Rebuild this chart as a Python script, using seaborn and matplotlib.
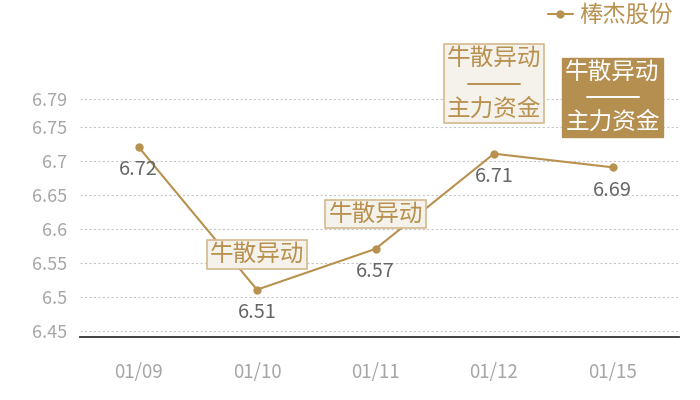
import matplotlib
matplotlib.use("Agg")
import matplotlib.pyplot as plt
from matplotlib.lines import Line2D
from matplotlib.transforms import IdentityTransform
import seaborn as sns
import pandas as pd

# ---- data ----
dates = ["01/09", "01/10", "01/11", "01/12", "01/15"]
prices = [6.72, 6.51, 6.57, 6.71, 6.69]
series_name = "棒杰股份"
y_ticks = [6.45, 6.5, 6.55, 6.6, 6.65, 6.7, 6.75, 6.79]
y_tick_labels = ["6.45", "6.5", "6.55", "6.6", "6.65", "6.7", "6.75", "6.79"]
# annotations
notes_idx = [1, 2, 3, 4]
notes_top = ["牛散异动", "牛散异动", "牛散异动", "牛散异动"]
notes_bottom = [None, None, "主力资金", "主力资金"]
notes_dark = [False, False, False, True]

sns.set_theme(style="white")
plt.rcParams['font.family'] = ['Noto Sans CJK SC', 'DejaVu Sans']

GOLD = "#b8914f"
DARK_BOX = "#b58f50"
LIGHT_BOX = "#f5f1eb"
LIGHT_EDGE = "#d4ba8e"

W, H = 700, 400
fig = plt.figure(figsize=(7, 4), dpi=100)
# axes pixel geometry
left_px, right_px, bottom_px, top_px = 80, 679, 336.7, 20
ax = fig.add_axes([left_px / W, (H - bottom_px) / H, (right_px - left_px) / W, (bottom_px - top_px) / H])

df = pd.DataFrame({"date": dates, "price": prices})
sns.lineplot(data=df, x="date", y="price", ax=ax, color=GOLD, linewidth=1.5,
             marker="o", markersize=6, markeredgewidth=0, sort=False,
             label=series_name, zorder=3)

# scales matching reference pixel layout
px_per_unit = 680.0
y_at_6_45 = 330.5
ymin = 6.45 - (bottom_px - y_at_6_45) / px_per_unit
ymax = 6.45 + (y_at_6_45 - top_px) / px_per_unit
ax.set_ylim(ymin, ymax)
step = 118.5
x0 = 138.5
ax.set_xlim((left_px - x0) / step, (right_px - x0) / step)

ax.set_yticks(y_ticks)
ax.set_yticklabels(y_tick_labels)
ax.set_xticks(range(len(dates)))
ax.set_xticklabels(dates)
ax.tick_params(axis="y", length=0, pad=9, labelsize=13, labelcolor="#a6a6a6")
ax.tick_params(axis="x", length=0, pad=18, labelsize=13.5, labelcolor="#a6a6a6")
ax.set_xlabel("")
ax.set_ylabel("")

ax.grid(axis="y", color="#c8c8c8", linestyle=(0, (2, 2)), linewidth=0.8)
ax.grid(axis="x", visible=False)
for s in ["top", "right", "left"]:
    ax.spines[s].set_visible(False)
ax.spines["bottom"].set_color("#333333")
ax.spines["bottom"].set_linewidth(1.3)

# value labels
for i, v in enumerate(prices):
    ax.annotate(f"{v:.2f}", xy=(i, v), xytext=(0, -23), textcoords="offset pixels",
                ha="center", va="center", fontsize=14.3, color="#666666", zorder=4)

# annotation boxes
for idx, top, bot, dark in zip(notes_idx, notes_top, notes_bottom, notes_dark):
    multi = bot is not None
    txt = f"{top}\n\n{bot}" if multi else top
    off = 70 if multi else 35
    if dark:
        bbox = dict(boxstyle="square,pad=0.12", facecolor=DARK_BOX, edgecolor=DARK_BOX, linewidth=1)
        tc = "white"
    else:
        bbox = dict(boxstyle="square,pad=0.12", facecolor=LIGHT_BOX, edgecolor=LIGHT_EDGE, linewidth=1.2)
        tc = GOLD
    ax.annotate(txt, xy=(idx, prices[idx]), xytext=(0, off), textcoords="offset pixels",
                ha="center", va="center", fontsize=17, color=tc, bbox=bbox,
                linespacing=1.12, multialignment="center", zorder=5, annotation_clip=False)
    if multi:
        px, py = ax.transData.transform((idx, prices[idx]))
        fig.add_artist(Line2D([px - 26, px + 26], [py + off, py + off], color=tc,
                              linewidth=1.4, transform=IdentityTransform(), zorder=6))

leg = ax.legend(loc="upper right", bbox_to_anchor=(673 / W, 1 - 4 / H), bbox_transform=fig.transFigure,
                frameon=False, fontsize=16.8, handlelength=1.05, handletextpad=0.3,
                borderaxespad=0, borderpad=0)
for t in leg.get_texts():
    t.set_color(GOLD)

fig.savefig("out.png", dpi=100)
